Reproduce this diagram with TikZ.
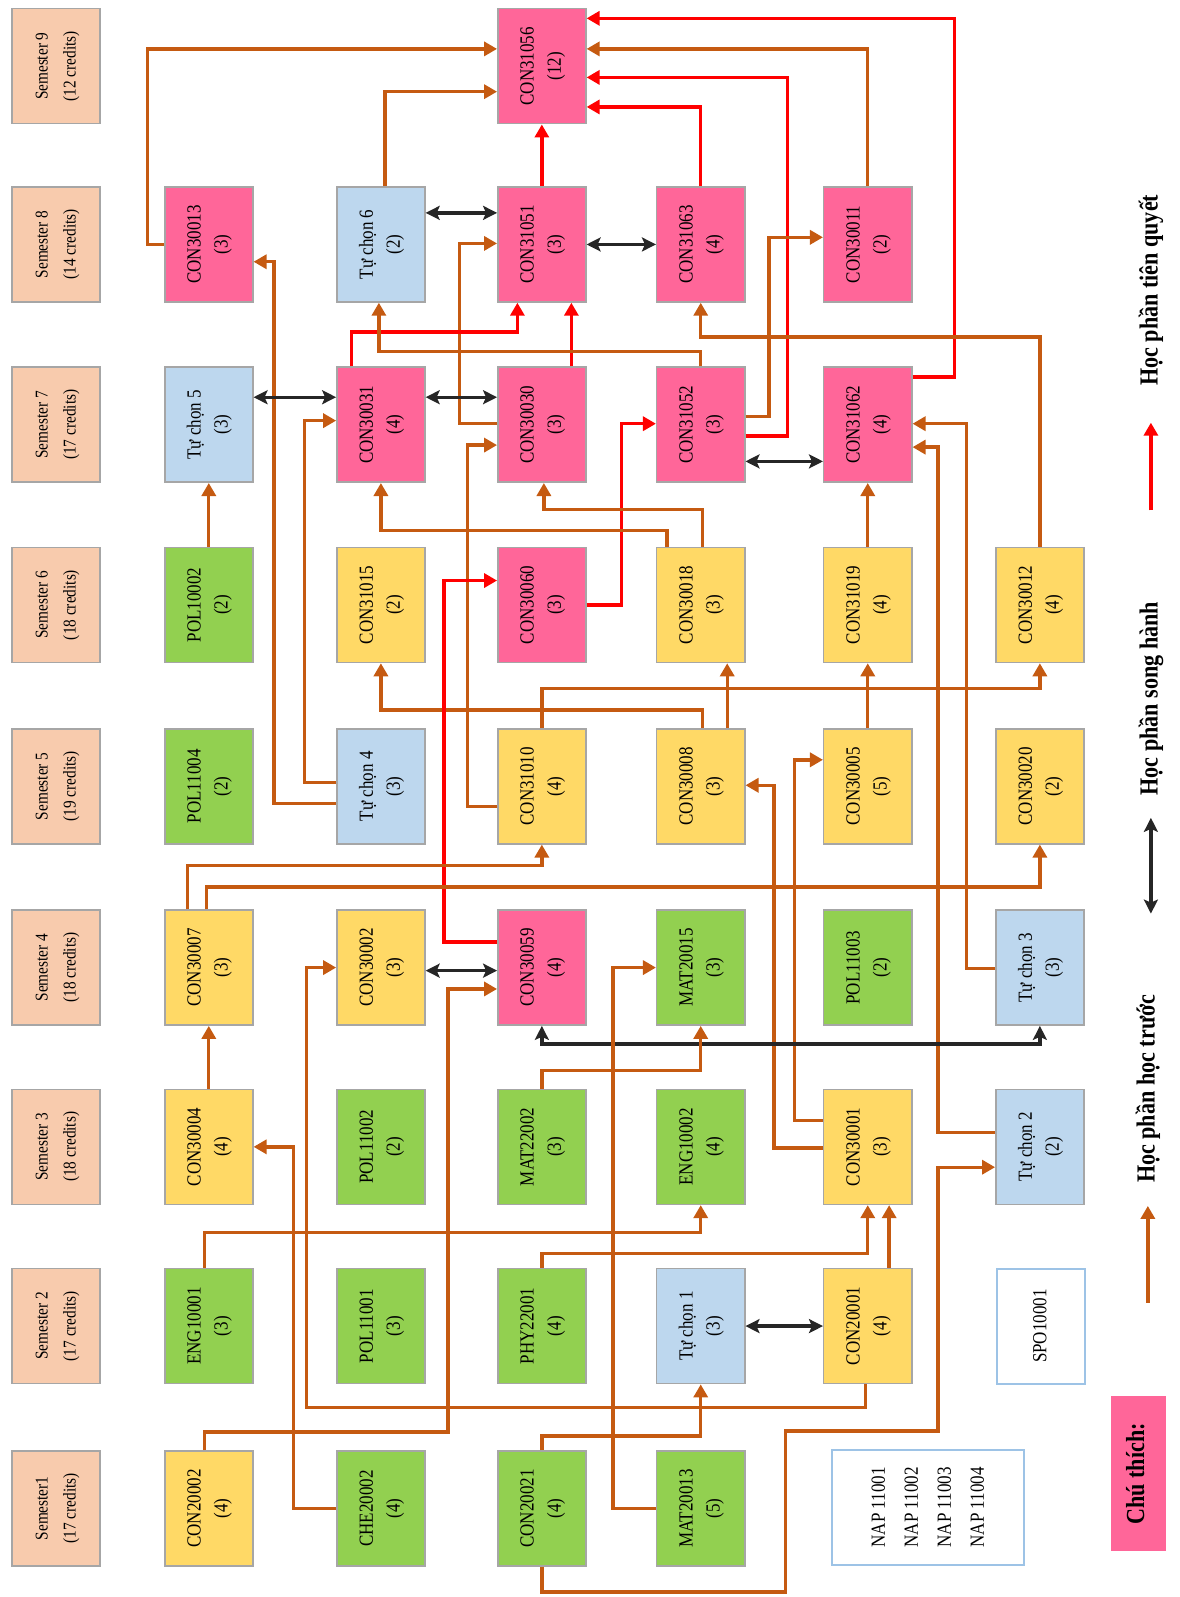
\documentclass[tikz,border=0pt]{standalone}
\usepackage{fontspec}
\setmainfont{Liberation Serif}[FakeStretch=0.85]
\usetikzlibrary{arrows.meta}
\definecolor{semfill}{HTML}{F8CBAD}
\definecolor{pinkfill}{HTML}{FF6699}
\definecolor{yelfill}{HTML}{FFD966}
\definecolor{grnfill}{HTML}{92D050}
\definecolor{bluefill}{HTML}{BDD7EE}
\definecolor{edgegray}{HTML}{A6A6A6}
\definecolor{preline}{HTML}{C55A11}
\definecolor{reqline}{HTML}{FF0000}
\definecolor{napedge}{HTML}{9DC3E6}
\newcommand{\vtxt}[1]{\rotatebox{90}{\begin{tabular}{@{}c@{}}#1\end{tabular}}}

\begin{document}
\begin{tikzpicture}[
  x=1.018pt, y=-1.018pt,
  font=\fontsize{20}{27}\selectfont,
  crs/.style={draw=edgegray, line width=1.5pt, inner sep=0pt,
              minimum width=88pt, minimum height=115pt},
  sem/.style={crs, fill=semfill, font=\fontsize{18}{28}\selectfont},
  pk/.style={crs, fill=pinkfill},
  yl/.style={crs, fill=yelfill},
  gr/.style={crs, fill=grnfill},
  bl/.style={crs, fill=bluefill},
  napbox/.style={draw=napedge, line width=2pt, fill=white, inner sep=0pt, minimum height=115pt},
  pre/.style={draw=preline, line width=3.4pt, -{Triangle[length=13pt,width=14pt]}},
  req/.style={pre, draw=reqline},
  coreq/.style={draw=black!85, line width=3.4pt,
                {Stealth[length=14pt,width=14pt,inset=3pt]}-{Stealth[length=14pt,width=14pt,inset=3pt]}},
  lgd/.style={font=\bfseries\fontsize{26}{30}\selectfont}
]
\useasboundingbox (0,0) rectangle (1158,1568);
% semesters
\node[sem] (s9) at (55,65) {\vtxt{Semester 9\\(12 credits)}};
\node[sem] (s8) at (55,240) {\vtxt{Semester 8\\(14 credits)}};
\node[sem] (s7) at (55,417) {\vtxt{Semester 7\\(17 credits)}};
\node[sem] (s6) at (55,594) {\vtxt{Semester 6\\(18 credits)}};
\node[sem] (s5) at (55,772) {\vtxt{Semester 5\\(19 credits)}};
\node[sem] (s4) at (55,950) {\vtxt{Semester 4\\(18 credits)}};
\node[sem] (s3) at (55,1126) {\vtxt{Semester 3\\(18 credits)}};
\node[sem] (s2) at (55,1302) {\vtxt{Semester 2\\(17 credits)}};
\node[sem] (s1) at (55,1481) {\vtxt{Semester1\\(17 credits)}};
% courses
\node[pk] (con31056) at (532,65) {\vtxt{CON31056\\(12)}};
\node[pk] (con30013) at (205,240) {\vtxt{CON30013\\(3)}};
\node[bl] (tc6) at (374,240) {\vtxt{Tự chọn 6\\(2)}};
\node[pk] (con31051) at (532,240) {\vtxt{CON31051\\(3)}};
\node[pk] (con31063) at (688,240) {\vtxt{CON31063\\(4)}};
\node[pk] (con30011) at (852,240) {\vtxt{CON30011\\(2)}};
\node[bl] (tc5) at (205,417) {\vtxt{Tự chọn 5\\(3)}};
\node[pk] (con30031) at (374,417) {\vtxt{CON30031\\(4)}};
\node[pk] (con30030) at (532,417) {\vtxt{CON30030\\(3)}};
\node[pk] (con31052) at (688,417) {\vtxt{CON31052\\(3)}};
\node[pk] (con31062) at (852,417) {\vtxt{CON31062\\(4)}};
\node[gr] (pol10002) at (205,594) {\vtxt{POL10002\\(2)}};
\node[yl] (con31015) at (374,594) {\vtxt{CON31015\\(2)}};
\node[pk] (con30060) at (532,594) {\vtxt{CON30060\\(3)}};
\node[yl] (con30018) at (688,594) {\vtxt{CON30018\\(3)}};
\node[yl] (con31019) at (852,594) {\vtxt{CON31019\\(4)}};
\node[yl] (con30012) at (1021,594) {\vtxt{CON30012\\(4)}};
\node[gr] (pol11004) at (205,772) {\vtxt{POL11004\\(2)}};
\node[bl] (tc4) at (374,772) {\vtxt{Tự chọn 4\\(3)}};
\node[yl] (con31010) at (532,772) {\vtxt{CON31010\\(4)}};
\node[yl] (con30008) at (688,772) {\vtxt{CON30008\\(3)}};
\node[yl] (con30005) at (852,772) {\vtxt{CON30005\\(5)}};
\node[yl] (con30020) at (1021,772) {\vtxt{CON30020\\(2)}};
\node[yl] (con30007) at (205,950) {\vtxt{CON30007\\(3)}};
\node[yl] (con30002) at (374,950) {\vtxt{CON30002\\(3)}};
\node[pk] (con30059) at (532,950) {\vtxt{CON30059\\(4)}};
\node[gr] (mat20015) at (688,950) {\vtxt{MAT20015\\(3)}};
\node[gr] (pol11003) at (852,950) {\vtxt{POL11003\\(2)}};
\node[bl] (tc3) at (1021,950) {\vtxt{Tự chọn 3\\(3)}};
\node[yl] (con30004) at (205,1126) {\vtxt{CON30004\\(4)}};
\node[gr] (pol11002) at (374,1126) {\vtxt{POL11002\\(2)}};
\node[gr] (mat22002) at (532,1126) {\vtxt{MAT22002\\(3)}};
\node[gr] (eng10002) at (688,1126) {\vtxt{ENG10002\\(4)}};
\node[yl] (con30001) at (852,1126) {\vtxt{CON30001\\(3)}};
\node[bl] (tc2) at (1021,1126) {\vtxt{Tự chọn 2\\(2)}};
\node[gr] (eng10001) at (205,1302) {\vtxt{ENG10001\\(3)}};
\node[gr] (pol11001) at (374,1302) {\vtxt{POL11001\\(3)}};
\node[gr] (phy22001) at (532,1302) {\vtxt{PHY22001\\(4)}};
\node[bl] (tc1) at (688,1302) {\vtxt{Tự chọn 1\\(3)}};
\node[yl] (con20001) at (852,1302) {\vtxt{CON20001\\(4)}};
\node[napbox, minimum width=88pt] (spo10001) at (1022,1302) {\vtxt{SPO10001}};
\node[yl] (con20002) at (205,1481) {\vtxt{CON20002\\(4)}};
\node[gr] (che20002) at (374,1481) {\vtxt{CHE20002\\(4)}};
\node[gr] (con20021) at (532,1481) {\vtxt{CON20021\\(4)}};
\node[gr] (mat20013) at (688,1481) {\vtxt{MAT20013\\(5)}};
\node[napbox, minimum width=192pt, font=\fontsize{20}{33}\selectfont] (nap) at (911,1480)
  {\vtxt{NAP 11001\\NAP 11002\\NAP 11003\\NAP 11004}};
% semester 9
\draw[pre] (con30013.west) -| (145,48) -- (con31056.west |- 0,48);
\draw[pre] (tc6.north -| 378,0) |- (con31056.west |- 0,90);
\draw[req] (con31051.north) -- (con31056.south);
\draw[req] (con31063.north) |- (con31056.east |- 0,105);
\draw[req] (con31052.east |- 0,428) -| (773,76) -- (con31056.east |- 0,76);
\draw[pre] (con30011.north) |- (con31056.east |- 0,48);
\draw[req] (con31062.east |- 0,370) -| (937,18) -- (con31056.east |- 0,18);
% semester 8
\draw[pre] (con31052.east |- 0,409) -| (755,233) -- (con30011.west |- 0,233);
\draw[coreq] (tc6.east |- 0,209) -- (con31051.west |- 0,209);
\draw[coreq] (con31051.east) -- (con31063.west);
\draw[pre] (con30030.west |- 0,416) -| (451,239) -- (con31051.west |- 0,239);
\draw[req] (con30031.north -| 345,0) |- (508,326) -- (con31051.south -| 508,0);
\draw[req] (con30030.north -| 561,0) -- (con31051.south -| 561,0);
\draw[pre] (con31052.north) |- (372,345) -- (tc6.south -| 372,0);
\draw[pre] (con30012.north) |- (688,331) -- (con31063.south);
\draw[pre] (tc4.west |- 0,789) -| (269,257) -- (con30013.east |- 0,257);
% semester 7
\draw[coreq] (tc5.east |- 0,390) -- (con30031.west |- 0,390);
\draw[coreq] (con30031.east |- 0,390) -- (con30030.west |- 0,390);
\draw[coreq] (con31052.east |- 0,453) -- (con31062.west |- 0,453);
\draw[req] (con30060.east) -| (610,416) -- (con31052.west |- 0,416);
\draw[pre] (pol10002.north) -- (tc5.south);
\draw[pre] (tc4.west |- 0,768) -| (299,413) -- (con30031.west |- 0,413);
\draw[pre] (con31010.west |- 0,792) -| (459,437) -- (con30030.west |- 0,437);
\draw[pre] (con30018.north -| 690,0) |- (534,500) -- (con30030.south -| 534,0);
\draw[pre] (con30018.north -| 655,0) |- (374,521) -- (con30031.south);
\draw[pre] (con31019.north) -- (con31062.south);
\draw[pre] (tc3.west |- 0,951) -| (949,416) -- (con31062.east |- 0,416);
\draw[pre] (tc2.west |- 0,1112) -| (921,439) -- (con31062.east |- 0,439);
% semester 6
\draw[pre] (con31010.north) |- (1021,676) -- (con30012.south);
\draw[pre] (con30008.north -| 690,0) |- (374,697) -- (con31015.south);
\draw[pre] (con30008.north -| 714,0) -- (con30018.south -| 714,0);
\draw[pre] (con30005.north) -- (con31019.south);
\draw[req] (con30059.west |- 0,925) -| (436,570) -- (con30060.west |- 0,570);
% semester 5
\draw[pre] (con30001.west |- 0,1127) -| (760,771) -- (con30008.east |- 0,771);
\draw[pre] (con30001.west |- 0,1100) -| (780,746) -- (con30005.west |- 0,746);
\draw[pre] (con30007.north -| 184,0) |- (532,850) -- (con31010.south);
\draw[pre] (con30007.north -| 203,0) |- (1021,871) -- (con30020.south);
% semester 4
\draw[coreq] (con30002.east |- 0,953) -- (con30059.west |- 0,953);
\draw[coreq] (con30059.south) |- (1021,1025) -- (tc3.south);
\draw[pre] (mat22002.north) |- (688,1051) -- (mat20015.south);
\draw[pre] (con30004.north) -- (con30007.south);
\draw[pre] (con20001.south -| 850,0) |- (301,1382) |- (con30002.west |- 0,950);
\draw[pre] (con20002.north -| 201,0) |- (440,1406) |- (con30059.west |- 0,971);
\draw[pre] (mat20013.west) -| (602,950) -- (mat20015.west |- 0,950);
% semester 3
\draw[pre] (che20002.west) -| (288,1126) -- (con30004.east);
\draw[pre] (eng10001.north -| 201,0) |- (688,1210) -- (eng10002.south);
\draw[pre] (phy22001.north) |- (852,1231) -- (con30001.south);
\draw[pre] (con20001.north -| 873,0) -- (con30001.south -| 873,0);
\draw[pre] (con20021.south) |- (771,1563) |- (921,1405) |- (tc2.west |- 0,1146);
% semester 2
\draw[pre] (con20021.north) |- (688,1410) -- (tc1.south);
\draw[coreq] (tc1.east |- 0,1302) -- (con20001.west |- 0,1302);
% legend
\node[pk, draw=none, minimum width=55pt, minimum height=155pt] (key) at (1118,1447)
  {\vtxt{\bfseries\fontsize{26}{30}\selectfont Chú thích:}};
\coordinate (k1a) at (1127,1279);
\coordinate (k1b) at (1127,1184);
\draw[pre] (k1a) -- (k1b);
\node[lgd] (k1) at (1127,1069) {\rotatebox{90}{Học phần học trước}};
\coordinate (k2a) at (1130,897);
\coordinate (k2b) at (1130,803);
\draw[coreq] (k2a) -- (k2b);
\node[lgd] (k2) at (1130,686) {\rotatebox{90}{Học phần song hành}};
\coordinate (k3a) at (1130,501);
\coordinate (k3b) at (1130,415);
\draw[req] (k3a) -- (k3b);
\node[lgd] (k3) at (1130,285) {\rotatebox{90}{Học phần tiên quyết}};
\end{tikzpicture}
\end{document}
